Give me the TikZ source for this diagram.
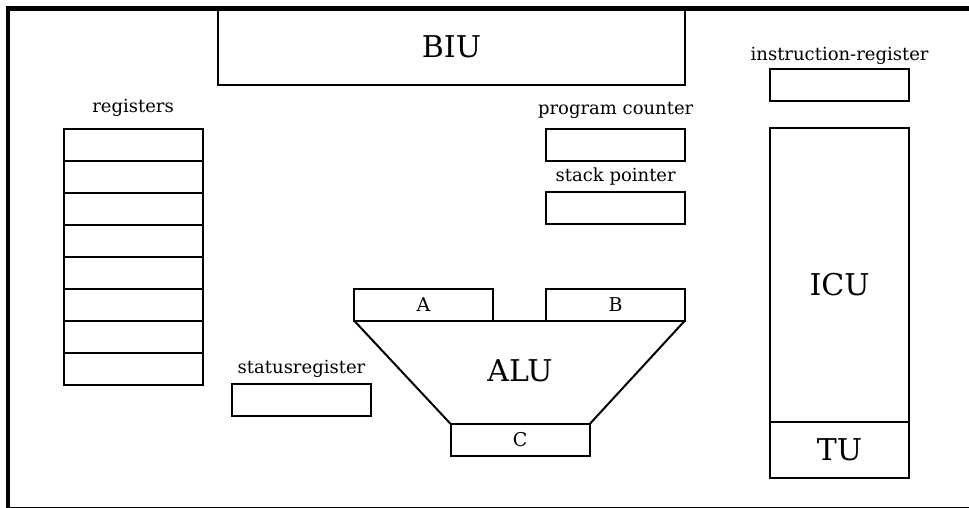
\documentclass[tikz,border=0pt]{standalone}
\usepackage{fontspec}
\setmainfont{DejaVu Serif}
\begin{document}
\begin{tikzpicture}[x=1pt,y=-1pt,
  box/.style={draw,line width=2pt,minimum width=139pt,minimum height=32pt,inner sep=0pt,outer sep=0pt,anchor=north west},
  lbl/.style={font=\fontsize{18}{20}\selectfont,anchor=base,inner sep=0pt,outer sep=0pt},
  small/.style={font=\fontsize{19}{21}\selectfont},
  big/.style={font=\fontsize{30}{32}\selectfont},
  bigtext/.style={font=\fontsize{30}{32}\selectfont,anchor=base,inner sep=0pt,outer sep=0pt}]
\useasboundingbox (0,0) rectangle (969,508);
\clip (0,0) rectangle (969,508);
\fill[white] (0,0) rectangle (969,508);
% outer frame
\draw[line width=4.5pt] (8,8.5) rectangle (985,509.5);
% BIU
\node[box,big,minimum width=467pt,minimum height=77pt] (biu) at (218,8) {BIU};
% registers
\node[lbl] (reglbl) at (133,113) {registers};
\foreach \i in {0,...,7}
  \node[box] (reg\i) at (63.7,{128.7+32*\i}) {};
% program counter / stack pointer
\node[lbl] (pclbl) at (615.7,115) {program counter};
\node[box] (pc) at (546,128.7) {};
\node[lbl] (splbl) at (615.7,181.7) {stack pointer};
\node[box] (sp) at (546,192) {};
% instruction register, ICU, TU
\node[lbl] (irlbl) at (839.6,61) {instruction-register};
\node[box] (ir) at (770,69.5) {};
\node[box,minimum height=294pt] (icu) at (770,127.7) {};
\node[bigtext] (icutext) at (839.6,295) {ICU};
\node[box,big,minimum height=56pt] (tu) at (770,421.7) {TU};
% status register
\node[lbl] (stlbl) at (301.5,373) {statusregister};
\node[box] (st) at (232.3,384) {};
% ALU
\node[box,small] (a) at (354,288.5) {A};
\node[box,small] (b) at (546,288.5) {B};
\node[box,small] (c) at (450.7,424) {C};
\draw[line width=2pt] (a.south east) -- (b.south west);
\draw[line width=2pt] (a.south west) -- (c.north west);
\draw[line width=2pt] (b.south east) -- (c.north east);
\node[bigtext] (alutext) at (520,381.7) {ALU};
\end{tikzpicture}
\end{document}
